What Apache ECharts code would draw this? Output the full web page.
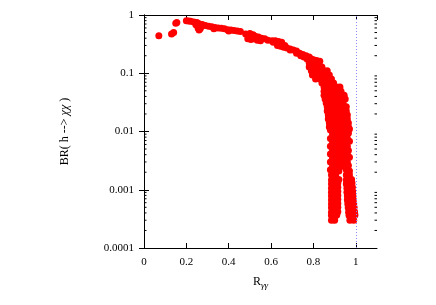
<!DOCTYPE html>
<html>
<head>
<meta charset="utf-8">
<script src="https://cdn.jsdelivr.net/npm/echarts@6/dist/echarts.min.js"></script>
<style>html,body{margin:0;padding:0;background:#fff}#c{width:436px;height:305px}</style>
</head>
<body>
<div id="c"></div>
<script>
// ---- data (R_gamma gamma, BR(h -> chi chi)) ----
const isolatedPoints = [[0.07,0.44],[0.13,0.47],[0.14,0.5],[0.15,0.72],[0.155,0.74]];
const upperBand = [
  [0.2,0.8],[0.21,0.79],[0.22,0.78],[0.235,0.76],[0.25,0.74],[0.26,0.71],[0.275,0.69],
  [0.245,0.68],[0.255,0.6],[0.26,0.55],[0.265,0.58],[0.27,0.63],
  [0.29,0.66],[0.305,0.64],[0.32,0.63],[0.335,0.61],[0.35,0.6],[0.365,0.59],[0.38,0.58],
  [0.395,0.56],[0.41,0.55],[0.425,0.54],[0.44,0.53],[0.455,0.52],[0.33,0.58],[0.4,0.53],
  [0.48,0.47],[0.495,0.45],[0.51,0.44],[0.525,0.43],[0.54,0.42],[0.555,0.4],[0.57,0.39],[0.585,0.37],
  [0.49,0.39],[0.505,0.38],[0.52,0.39],[0.535,0.37],[0.55,0.36],[0.5,0.48],[0.515,0.46],
  [0.605,0.36],[0.62,0.36],[0.635,0.35],[0.65,0.34],[0.61,0.34],[0.645,0.33],
  [0.63,0.3],[0.645,0.29],[0.66,0.28],[0.675,0.27],[0.69,0.26],[0.705,0.25],[0.72,0.24],
  [0.735,0.22],[0.75,0.21],[0.765,0.2],[0.78,0.19],[0.665,0.3],[0.69,0.25],[0.72,0.22],
  [0.74,0.2],[0.755,0.19],[0.77,0.175],
  [0.79,0.175],[0.8,0.17],[0.815,0.165],[0.83,0.16],[0.785,0.16]
];
const steepBand = [
  [0.78,0.15],[0.8,0.15],[0.82,0.15],
  [0.78,0.128],[0.8,0.128],[0.82,0.128],[0.84,0.128],
  [0.79,0.11],[0.81,0.11],[0.83,0.11],[0.85,0.11],[0.865,0.11],
  [0.795,0.093],[0.815,0.093],[0.835,0.093],[0.855,0.093],[0.875,0.093],
  [0.81,0.08],[0.83,0.08],[0.85,0.08],[0.87,0.08],[0.885,0.08],
  [0.84,0.068],[0.86,0.068],[0.88,0.068],[0.895,0.068],
  [0.85,0.058],[0.87,0.058],[0.89,0.058],[0.91,0.058],[0.925,0.058],
  [0.85,0.049],[0.87,0.049],[0.89,0.049],[0.91,0.049],[0.93,0.049],
  [0.85,0.042],[0.87,0.042],[0.89,0.042],[0.91,0.042],[0.93,0.042],[0.945,0.042],
  [0.855,0.036],[0.875,0.036],[0.895,0.036],[0.915,0.036],[0.935,0.036],[0.95,0.036],
  [0.86,0.031],[0.88,0.031],[0.9,0.031],[0.92,0.031],[0.94,0.031],
  [0.865,0.0265],[0.885,0.0265],[0.905,0.0265],[0.925,0.0265],[0.945,0.0265],[0.955,0.0265],
  [0.865,0.0225],[0.885,0.0225],[0.905,0.0225],[0.925,0.0225],[0.945,0.0225],[0.955,0.0225],
  [0.87,0.0192],[0.89,0.0192],[0.91,0.0192],[0.93,0.0192],[0.95,0.0192],[0.96,0.0192],
  [0.87,0.0164],[0.89,0.0164],[0.91,0.0164],[0.93,0.0164],[0.95,0.0164],[0.96,0.0164],
  [0.875,0.014],[0.895,0.014],[0.915,0.014],[0.935,0.014],[0.955,0.014],[0.965,0.014],
  [0.875,0.012],[0.895,0.012],[0.915,0.012],[0.935,0.012],[0.955,0.012],[0.965,0.012]
];
const columnBand = [
  [0.88,0.0106],[0.9,0.0106],[0.92,0.0106],[0.94,0.0106],[0.96,0.0106],[0.97,0.011],
  [0.89,0.0091],[0.91,0.0091],[0.93,0.0091],[0.95,0.0091],[0.965,0.0093],
  [0.88,0.0076],[0.9,0.0076],[0.92,0.0076],[0.94,0.0076],[0.96,0.0076],
  [0.89,0.0066],[0.91,0.0066],[0.93,0.0066],[0.95,0.0066],[0.97,0.0068],
  [0.88,0.0056],[0.9,0.0056],[0.92,0.0056],[0.94,0.0056],[0.96,0.0056],
  [0.89,0.0048],[0.91,0.0048],[0.93,0.0048],[0.95,0.0048],[0.965,0.0047],
  [0.88,0.0041],[0.9,0.0041],[0.92,0.0041],[0.94,0.0041],[0.96,0.0041],
  [0.89,0.0035],[0.91,0.0035],[0.93,0.0035],[0.95,0.0035],[0.97,0.0036],
  [0.88,0.003],[0.9,0.003],[0.92,0.003],[0.94,0.003],[0.96,0.003],
  [0.89,0.0025],[0.91,0.0025],[0.93,0.0025],[0.95,0.0025],[0.965,0.0026],
  [0.88,0.0022],[0.9,0.0022],[0.92,0.0021],[0.955,0.0022],[0.97,0.0021],
  [0.885,0.0018],[0.905,0.0018],[0.955,0.0018],[0.97,0.0018]
];
const leftTail = [
  [0.885,0.00147],[0.905,0.00147],[0.92,0.0015],
  [0.885,0.00126],[0.905,0.00126],[0.915,0.0013],
  [0.885,0.00106],[0.905,0.00106],[0.915,0.0011],
  [0.885,0.00091],[0.905,0.00091],[0.915,0.00093],
  [0.885,0.00078],[0.905,0.00078],[0.915,0.0008],
  [0.885,0.00067],[0.905,0.00067],[0.915,0.00068],
  [0.885,0.00057],[0.905,0.00057],[0.915,0.00058],
  [0.885,0.00049],[0.905,0.00049],[0.915,0.0005],
  [0.885,0.00041],[0.905,0.00041],[0.915,0.00042],
  [0.885,0.00036],[0.905,0.00036],[0.91,0.00037],
  [0.885,0.0003],[0.9,0.0003]
];
const rightTail = [
  [0.955,0.00147],[0.97,0.00147],[0.98,0.0015],
  [0.955,0.00126],[0.97,0.00126],[0.982,0.0013],
  [0.958,0.00106],[0.972,0.00106],[0.984,0.0011],
  [0.958,0.00091],[0.972,0.00091],[0.985,0.00093],
  [0.96,0.00078],[0.975,0.00078],[0.986,0.0008],
  [0.96,0.00067],[0.975,0.00067],[0.988,0.00068],
  [0.962,0.00057],[0.977,0.00057],[0.99,0.00058],
  [0.964,0.00049],[0.979,0.00049],[0.992,0.0005],
  [0.966,0.00041],[0.981,0.00041],[0.994,0.00042],
  [0.968,0.00036],[0.983,0.00036],[0.996,0.00037],
  [0.972,0.0003],[0.99,0.0003]
];
const xTickLabels = ['0','0.2','0.4','0.6','0.8','1'];
const yTickLabels = {'0.0001':'0.0001','0.001':'0.001','0.01':'0.01','0.1':'0.1','1':'1'};
const yMinorTicks = [];
[0.0001,0.001,0.01,0.1].forEach(d => { for (let k = 2; k <= 9; k++) yMinorTicks.push(+(d*k).toPrecision(3)); });
const referenceR = 1;

const allPoints = [].concat(isolatedPoints, upperBand, steepBand, columnBand, leftTail, rightTail);
const serif = '"Liberation Serif", "DejaVu Serif", serif';

const chart = echarts.init(document.getElementById('c'), null, {renderer: 'canvas'});
const axisLine = {show: true, lineStyle: {color: '#000', width: 1}};
const xLab = v => {
  const i = Math.round(v / 0.2);
  return (Math.abs(v - i * 0.2) < 1e-6 && xTickLabels[i] !== undefined) ? xTickLabels[i] : '';
};
const yLab = v => {
  const k = String(+v.toPrecision(3));
  return yTickLabels[k] !== undefined ? yTickLabels[k] : '';
};
chart.setOption({
  animation: false,
  backgroundColor: '#fff',
  grid: {left: 144, top: 15, right: 59, bottom: 57, containLabel: false},
  xAxis: [{
    type: 'value', min: 0, max: 1.1, interval: 0.2, position: 'bottom',
    axisLine, splitLine: {show: false},
    axisTick: {show: true, inside: true, length: 5, lineStyle: {color: '#000'}},
    axisLabel: {show: true, margin: 9, showMaxLabel: false, color: '#000', fontFamily: serif, fontSize: 11, formatter: xLab},
    name: '{r|R}{s|γγ}', nameLocation: 'middle', nameGap: 26,
    nameTextStyle: {color: '#000', fontFamily: serif, rich: {
      r: {fontFamily: serif, fontSize: 12, color: '#000'},
      s: {fontFamily: serif, fontSize: 9, fontStyle: 'italic', color: '#000', padding: [7, 0, 0, 0]}
    }}
  }, {
    type: 'value', min: 0, max: 1.1, interval: 0.2, position: 'top',
    axisLine, splitLine: {show: false},
    axisTick: {show: true, inside: true, length: 5, lineStyle: {color: '#000'}},
    axisLabel: {show: false}
  }],
  yAxis: [{
    type: 'log', logBase: 10, min: 0.0001, max: 1, position: 'left',
    axisLine, splitLine: {show: false},
    axisTick: {show: true, inside: true, length: 5, lineStyle: {color: '#000'}},
    axisLabel: {show: true, margin: 10, color: '#000', fontFamily: serif, fontSize: 11, formatter: yLab},
    name: 'BR( h --> {i|χχ} )', nameLocation: 'middle', nameGap: 73, nameRotate: 90,
    nameTextStyle: {color: '#000', fontFamily: serif, fontSize: 12, rich: {
      i: {fontFamily: serif, fontSize: 12, fontStyle: 'italic', color: '#000'}
    }}
  }, {
    type: 'log', logBase: 10, min: 0.0001, max: 1, position: 'right',
    axisLine, splitLine: {show: false},
    axisTick: {show: true, inside: true, length: 5, lineStyle: {color: '#000'}},
    axisLabel: {show: false}
  }],
  series: [{
    type: 'scatter', xAxisIndex: 0, yAxisIndex: 0,
    symbol: 'circle', symbolSize: 7,
    itemStyle: {color: '#ff0000', opacity: 1},
    data: allPoints, z: 2,
    markLine: {
      silent: true, symbol: 'none', label: {show: false},
      lineStyle: {color: '#8a8aff', type: [1, 2], width: 1},
      data: [{xAxis: referenceR}], z: 3
    }
  }, {
    type: 'custom', xAxisIndex: 0, yAxisIndex: 0, silent: true, z: 4,
    data: yMinorTicks.map(v => [0, v]),
    renderItem: (params, api) => {
      const v = api.value(1);
      const pl = api.coord([0, v]);
      const pr = api.coord([1.1, v]);
      return {type: 'group', children: [
        {type: 'line', shape: {x1: pl[0], y1: pl[1], x2: pl[0] + 2.5, y2: pl[1]}, style: {stroke: '#000', lineWidth: 1}},
        {type: 'line', shape: {x1: pr[0], y1: pr[1], x2: pr[0] - 2.5, y2: pr[1]}, style: {stroke: '#000', lineWidth: 1}}
      ]};
    }
  }]
});
</script>
</body>
</html>
